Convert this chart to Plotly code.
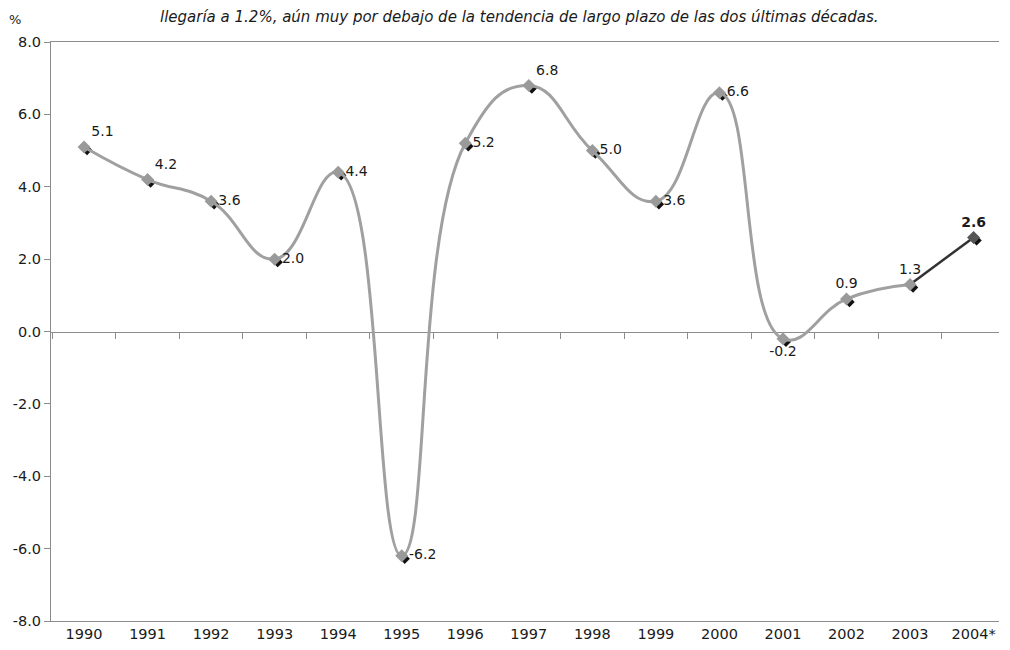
import plotly.graph_objects as go

# ---- data ----
years = ["1990", "1991", "1992", "1993", "1994", "1995", "1996", "1997",
         "1998", "1999", "2000", "2001", "2002", "2003", "2004*"]
growth = [5.1, 4.2, 3.6, 2.0, 4.4, -6.2, 5.2, 6.8, 5.0, 3.6, 6.6, -0.2, 0.9, 1.3, 2.6]
y_ticks = [-8, -6, -4, -2, 0, 2, 4, 6, 8]
title_text = "llegaría a 1.2%, aún muy por debajo de la tendencia de largo plazo de las dos últimas décadas."
unit_text = "%"

label_pos = ["top right", "top right", "middle right", "middle right", "middle right",
             "middle right", "middle right", "top right", "middle right", "middle right",
             "middle right", "bottom center", "top center", "top center", "top center"]

n_hist = 14  # 1990..2003 observed, 2004* estimate

# ---- layout geometry (page body has an 8px margin) ----
W, H = 994, 634
ml, mr, mt, mb = 43, 0, 34, 18
plot_w = W - ml - mr
plot_h = H - mt - mb
dx = 3.0 / plot_w
dy = 3.0 / plot_h
y_min, y_max = -8, 8
zero_pos = dy + (0 - y_min) / (y_max - y_min) * (1 - dy)

FONT = "DejaVu Sans"
labels = [f"{v:.1f}" for v in growth]
labels[-1] = f"<b>{growth[-1]:.1f}</b>"
ytick_text = [f"{v:.1f}" for v in y_ticks]
cat_range = [-0.52, 14.4]

fig = go.Figure()

# shadow markers (slightly offset subplot, drawn first / underneath)
fig.add_trace(go.Scatter(
    x=years, y=growth, xaxis="x", yaxis="y", mode="markers",
    marker=dict(symbol="diamond", size=8, color="#111111"),
    hoverinfo="skip", showlegend=False))

# dummy trace for zero-line tick axis
fig.add_trace(go.Scatter(
    x=years, y=[0] * len(years), xaxis="x2", yaxis="y3", mode="markers",
    marker=dict(size=1, opacity=0), hoverinfo="skip", showlegend=False))

# historical smoothed line
fig.add_trace(go.Scatter(
    x=years[:n_hist], y=growth[:n_hist], xaxis="x3", yaxis="y2", mode="lines",
    line=dict(color="#a0a0a0", width=3, shape="spline", smoothing=1.3),
    hoverinfo="skip", showlegend=False))

# estimate segment
fig.add_trace(go.Scatter(
    x=years[n_hist - 1:], y=growth[n_hist - 1:], xaxis="x3", yaxis="y2", mode="lines",
    line=dict(color="#333333", width=2.5),
    hoverinfo="skip", showlegend=False))

# markers + labels
marker_colors = ["#9a9a9a"] * (len(years) - 1) + ["#555555"]
fig.add_trace(go.Scatter(
    x=years, y=growth, xaxis="x3", yaxis="y2", mode="markers+text",
    marker=dict(symbol="diamond", size=10, color=marker_colors),
    text=labels, textposition=label_pos,
    textfont=dict(family=FONT, size=14, color="#1a1a1a"),
    cliponaxis=False, hoverinfo="skip", showlegend=False))

axis_col = "#8c8c8c"
tick_font = dict(family=FONT, size=14.5, color="#1a1a1a")
fig.update_layout(
    width=W, height=H,
    margin=dict(l=ml, r=mr, t=mt, b=mb, autoexpand=False),
    paper_bgcolor="white", plot_bgcolor="rgba(0,0,0,0)",
    font=dict(family=FONT, size=13, color="#1a1a1a"),
    # shadow subplot
    xaxis=dict(type="category", domain=[dx, 1], anchor="y",
               categoryorder="array", categoryarray=years, range=cat_range,
               visible=False),
    yaxis=dict(domain=[0, 1 - dy], anchor="x", range=[y_min, y_max], visible=False),
    # zero-line tick axis
    xaxis2=dict(type="category", domain=[0, 1 - dx], anchor="y3",
                categoryorder="array", categoryarray=years, range=cat_range,
                showline=True, linecolor=axis_col, linewidth=1,
                ticks="outside", tickson="boundaries", ticklen=6, tickcolor=axis_col,
                showticklabels=False, showgrid=False, zeroline=False),
    yaxis3=dict(domain=[zero_pos, 1], anchor="x2", range=[0, y_max], visible=False),
    # main subplot
    xaxis3=dict(type="category", domain=[0, 1 - dx], anchor="y2",
                categoryorder="array", categoryarray=years, range=cat_range,
                showline=True, mirror=True, linecolor=axis_col, linewidth=1,
                ticks="", showgrid=False, zeroline=False, tickfont=tick_font),
    yaxis2=dict(domain=[dy, 1], anchor="x3", range=[y_min, y_max],
                tickvals=y_ticks, ticktext=ytick_text,
                showline=True, linecolor=axis_col, linewidth=1,
                ticks="outside", ticklen=6, tickcolor=axis_col,
                showgrid=False, zeroline=False, tickfont=tick_font),
    annotations=[
        dict(text=title_text, xref="paper", yref="paper", x=0.493, y=1,
             xanchor="center", yanchor="bottom", yshift=14, showarrow=False,
             font=dict(family=FONT, size=15, color="#1a1a1a", style="italic")),
        dict(text=unit_text, xref="paper", yref="paper", x=-0.038, y=1,
             xanchor="center", yanchor="bottom", yshift=13, showarrow=False,
             font=dict(family=FONT, size=13, color="#1a1a1a")),
    ],
)

fig.write_html("out.html")
